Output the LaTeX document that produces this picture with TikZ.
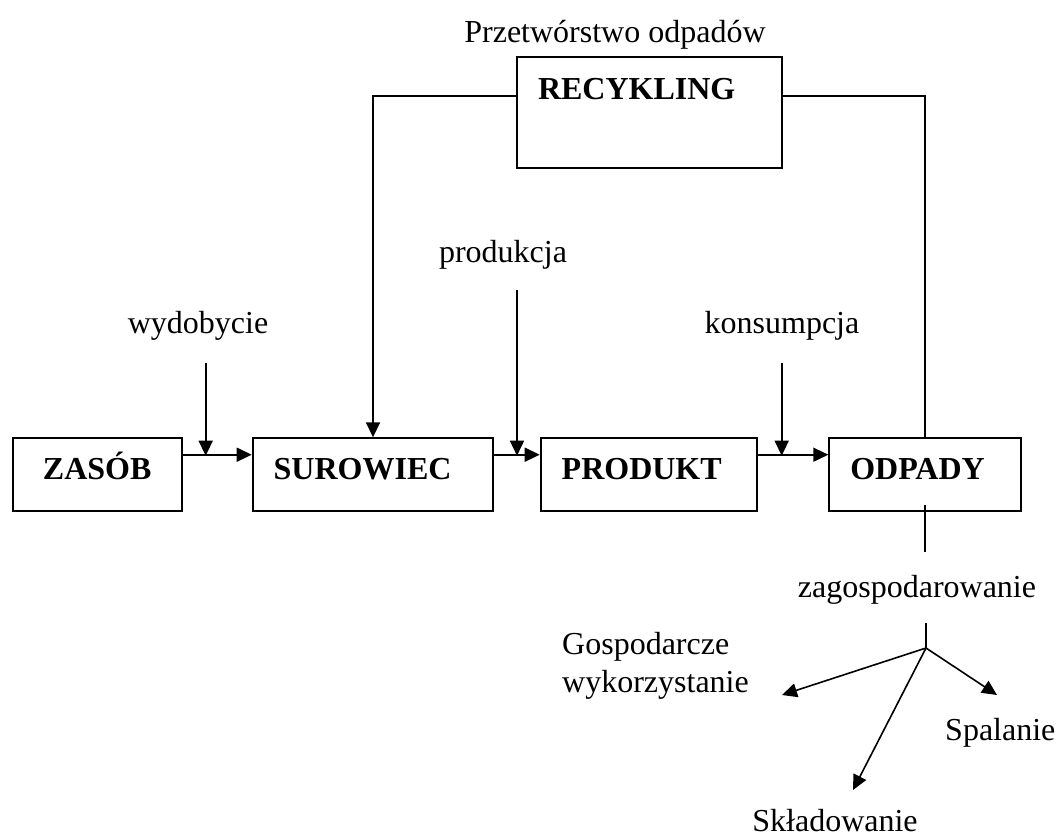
\documentclass[tikz,border=0pt]{standalone}
\usepackage{fontspec}
\setmainfont{Liberation Serif}
\usetikzlibrary{arrows.meta}
\begin{document}
\begin{tikzpicture}[
		x=1pt, y=-1pt,
		every node/.style = {font=\fontsize{32}{38}\selectfont, inner sep=0pt},
		box/.style = {draw, line width=2pt, font=\fontsize{32}{38}\selectfont\bfseries, inner xsep=21pt, inner ysep=0pt, text height=41pt, text depth=31.4pt, align=left},
		line/.style = {line width=1.6pt},
		arr/.style = {line width=1.6pt, -{Triangle[length=15pt, width=14pt]}},
	]
	\path[use as bounding box] (0,0) rectangle (1056,839);
	\node[box, text width=127pt, align=center] (zasob) at (97.2,474.5) {ZASÓB};
	\node[box, text width=198.6pt] (surowiec) at (373,474.5) {SUROWIEC};
	\node[box, text width=174.6pt] (produkt) at (649,474.5) {PRODUKT};
	\node[box, text width=149.4pt] (odpady) at (925,474.5) {ODPADY};
	\node[box, text width=223pt, text height=42pt, text depth=69pt] (recykling) at (649.5,112.5) {RECYKLING};
	\node[anchor=base] (przetw) at (615,42) {Przetwórstwo odpadów};
	\node[anchor=base] (wydobycie) at (198,333) {wydobycie};
	\node[anchor=base] (produkcja) at (503,262) {produkcja};
	\node[anchor=base] (konsumpcja) at (782,333) {konsumpcja};
	\node[anchor=base] (zagosp) at (917,597) {zagospodarowanie};
	\node[anchor=base west, align=left] (gosp) at (562,692) {Gospodarcze\\wykorzystanie};
	\node[anchor=base west] (spalanie) at (945,740) {Spalanie};
	\node[anchor=base] (skladowanie) at (835,831) {Składowanie};

	\draw[arr] ([yshift=-17.4pt]zasob.north east) -- ([yshift=-17.4pt]surowiec.north west);
	\draw[arr] ([yshift=-17.4pt]surowiec.north east) -- ([yshift=-17.4pt]produkt.north west);
	\draw[arr] ([yshift=-17.4pt]produkt.north east) -- ([yshift=-17.4pt]odpady.north west);

	\coordinate (wydTop) at (205.7,363);
	\coordinate (wydEnd) at (205.7,455.7);
	\coordinate (prodTop) at (517,290);
	\coordinate (prodEnd) at (517,455.7);
	\coordinate (konsTop) at (781.7,363);
	\coordinate (konsEnd) at (781.7,455.7);
	\draw[arr] (wydTop) -- (wydEnd);
	\draw[arr] (prodTop) -- (prodEnd);
	\draw[arr] (konsTop) -- (konsEnd);

	\draw[arr] ([yshift=-40pt]recykling.north west) -| (surowiec.north);
	\draw[line] ([yshift=-40pt]recykling.north east) -| (odpady.north);

	\coordinate (odpEnd) at (925,552);
	\coordinate (splitTop) at (926,623);
	\coordinate (split) at (926,648);
	\coordinate (gospTip) at (782,695);
	\coordinate (spalTip) at (997,695);
	\coordinate (sklTip) at (853,790);
	\draw[line] ([yshift=7pt]odpady.south) -- (odpEnd);
	\draw[line] (splitTop) -- (split);
	\draw[arr] (split) -- (gospTip);
	\draw[arr] (split) -- (spalTip);
	\draw[arr] (split) -- (sklTip);
\end{tikzpicture}
\end{document}
